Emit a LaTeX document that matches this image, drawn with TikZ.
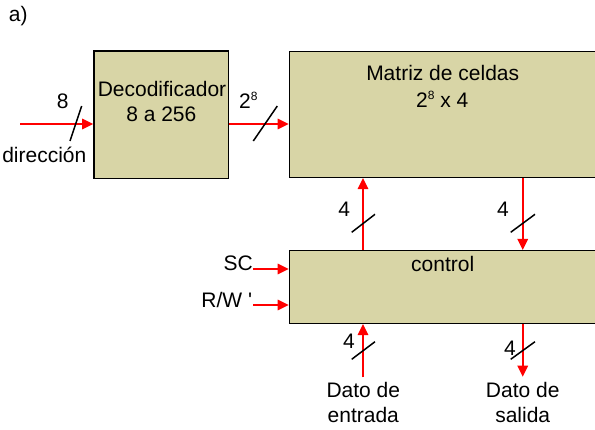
\documentclass[tikz,border=0pt]{standalone}
\usepackage{fontspec}
\setmainfont{Liberation Sans}
\usetikzlibrary{arrows.meta}
\definecolor{boxfill}{HTML}{D8D5A6}
\newcommand{\supe}[1]{\raisebox{0.75ex}{\fontsize{12}{12}\selectfont #1}}
\begin{document}
\begin{tikzpicture}[x=1pt,y=-1pt,
 blk/.style={draw=black,line width=1.5pt,fill=boxfill,inner sep=0pt},
 sig/.style={red,line width=1.6pt,-{Triangle[length=11pt,width=10.5pt]}},
 bus/.style={black,line width=1.5pt},
 lbl/.style={font=\fontsize{21}{25}\selectfont,inner sep=0pt,text=black,align=center}]
\useasboundingbox (0,0) rectangle (595,430);
\clip (0,0) rectangle (595,430);
% blocks
\node[blk,minimum width=134.7pt,minimum height=127.3pt] (dec) at (161.3,114.7) {};
\node[blk,minimum width=315.7pt,minimum height=125.6pt] (mat) at (447.2,114.5) {};
\node[blk,minimum width=315.7pt,minimum height=72.6pt] (ctl) at (447.2,287) {};
% texts
\node[lbl] (ta) at (18.3,16) {a)};
\node[lbl] (tdec1) at (162,89.3) {Decodificador};
\node[lbl] (tdec2) at (161.3,114.3) {8 a 256};
\node[lbl] (tmat1) at (442.7,73.3) {Matriz de celdas};
\node[lbl] (tmat2) at (442.3,99.3) {2\supe{8} x 4};
\node[lbl] (tctl) at (442.7,264.3) {control};
\node[lbl] (t8) at (62.7,101) {8};
\node[lbl] (tdir) at (44.3,155) {dirección};
\node[lbl] (t28) at (248.3,100) {2\supe{8}};
\node[lbl] (t4a) at (344.3,209.3) {4};
\node[lbl] (t4b) at (503,209.3) {4};
\node[lbl] (t4c) at (349,341.7) {4};
\node[lbl] (t4d) at (510,348) {4};
\node[lbl,anchor=east] (tsc) at (253,263.3) {SC};
\node[lbl] (trw) at (226.7,300) {R/W \textquotesingle};
\node[lbl] (tdin1) at (363.3,390) {Dato de};
\node[lbl] (tdin2) at (363.3,415) {entrada};
\node[lbl] (tdo1) at (522.7,390) {Dato de};
\node[lbl] (tdo2) at (522.7,415) {salida};
% connectors
\coordinate (in) at (20,124);
\draw[sig] (in) -- (in -| dec.west);
\draw[sig] (dec.east |- in) -- (mat.west |- in);
\coordinate (up) at (363,0);
\coordinate (dn) at (522.7,0);
\draw[sig] (ctl.north -| up) -- (mat.south -| up);
\draw[sig] (mat.south -| dn) -- (ctl.north -| dn);
\coordinate (sc) at (253.3,269);
\coordinate (rw) at (253.3,305);
\draw[sig] (sc) -- (sc -| ctl.west);
\draw[sig] (rw) -- (rw -| ctl.west);
\coordinate (din) at (363,377.3);
\coordinate (dout) at (522.7,376.7);
\draw[sig] (din) -- (din |- ctl.south);
\draw[sig] (dout |- ctl.south) -- (dout);
% bus slashes
\draw[bus] (70,141) -- (81.7,106);
\draw[bus] (253.3,141) -- (277.3,106);
\draw[bus] (351.7,232.3) -- (375,214.3);
\draw[bus] (510.7,232.3) -- (535,214.3);
\draw[bus] (351.7,359.3) -- (375,341.7);
\draw[bus] (510.7,359.3) -- (535,341.7);
\end{tikzpicture}
\end{document}
